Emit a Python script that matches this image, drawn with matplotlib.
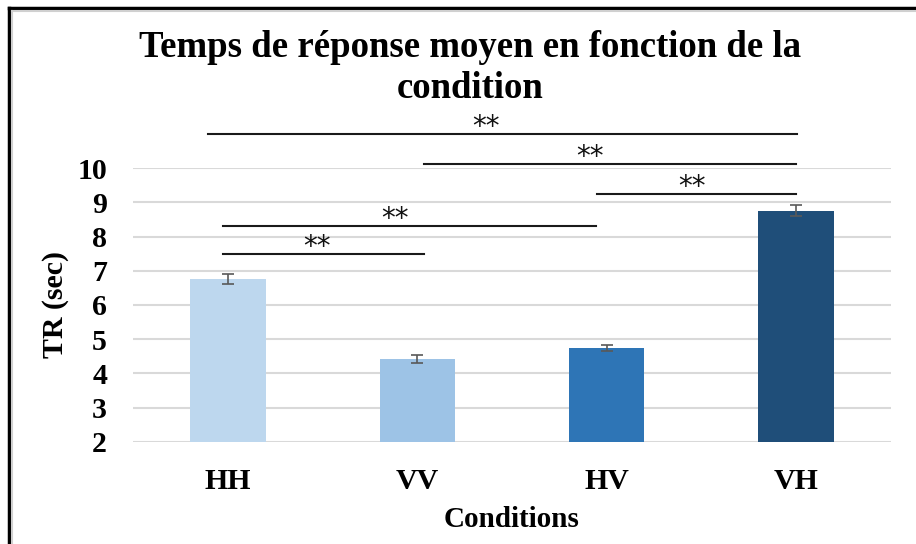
import matplotlib
matplotlib.use('Agg')
import matplotlib.pyplot as plt
from matplotlib.lines import Line2D

# Data
conditions = ['HH', 'VV', 'HV', 'VH']
mean_rt = [6.76, 4.42, 4.74, 8.76]
err_rt = [0.14, 0.12, 0.10, 0.15]
bar_colors = ['#BDD7EE', '#9DC3E6', '#2E75B6', '#1F4E79']
yticks = [2, 3, 4, 5, 6, 7, 8, 9, 10]

# significance brackets: (start, end, height, star position, label)
brackets = [
    (-0.107, 3.004, 10.99, 1.36, '**'),
    (1.035, 3.0, 10.11, 1.91, '**'),
    (1.949, 3.0, 9.25, 2.45, '**'),
    (-0.026, 1.942, 8.32, 0.88, '**'),
    (-0.026, 1.035, 7.50, 0.47, '**'),
]

serif = 'Liberation Serif'

fig = plt.figure(figsize=(9.16, 5.44), dpi=100)
ax = fig.add_axes([0.1457, 0.188, 0.8265, 0.503])

x = range(len(conditions))
ax.bar(x, [m - 2 for m in mean_rt], bottom=2, width=0.4, color=bar_colors, zorder=2)
ax.errorbar(x, mean_rt, yerr=err_rt, fmt='none', ecolor='#595959',
            elinewidth=1.2, capsize=4, capthick=1.2, zorder=3)

ax.set_xlim(-0.5, 3.5)
ax.set_ylim(2, 10)
ax.set_yticks(yticks)
ax.set_xticks(list(x))
ax.set_xticklabels(conditions)
ax.grid(axis='y', color='#d9d9d9', linewidth=1.5, zorder=0)
ax.set_axisbelow(True)
for s in ax.spines.values():
    s.set_visible(False)
ax.tick_params(length=0, pad=19)
for lab in ax.get_xticklabels() + ax.get_yticklabels():
    lab.set_fontfamily(serif)
    lab.set_fontweight('bold')
    lab.set_fontsize(21.5)

ax.set_ylabel('TR (sec)', fontfamily=serif, fontweight='bold', fontsize=21.5, labelpad=6)
ax.set_xlabel('Conditions', fontfamily=serif, fontweight='bold', fontsize=21, labelpad=8)

for x0, x1, h, sx, lab in brackets:
    ax.plot([x0, x1], [h, h], color='#1a1a1a', linewidth=1.5, clip_on=False, zorder=4)
    ax.text(sx, h - 0.03, lab, ha='center', va='baseline', fontsize=20,
            fontfamily='DejaVu Sans', color='#111111', clip_on=False)

fig.text(0.513, 0.945, 'Temps de réponse moyen en fonction de la\ncondition',
         ha='center', va='top', fontfamily=serif, fontweight='bold',
         fontsize=26.5, linespacing=1.22)

# frame around the chart area
fig.add_artist(Line2D([9 / 916, 9 / 916], [0, 1 - 8 / 544], color='black',
                      linewidth=2.5, transform=fig.transFigure))
fig.add_artist(Line2D([9 / 916, 1], [1 - 8 / 544, 1 - 8 / 544], color='black',
                      linewidth=2.5, transform=fig.transFigure))
fig.add_artist(Line2D([11.5 / 916, 11.5 / 916], [0, 1 - 10.5 / 544], color='#d0d0d0',
                      linewidth=1.5, transform=fig.transFigure))
fig.add_artist(Line2D([11.5 / 916, 1], [1 - 10.5 / 544, 1 - 10.5 / 544], color='#d0d0d0',
                      linewidth=1.5, transform=fig.transFigure))

fig.savefig('out.png', dpi=100)
